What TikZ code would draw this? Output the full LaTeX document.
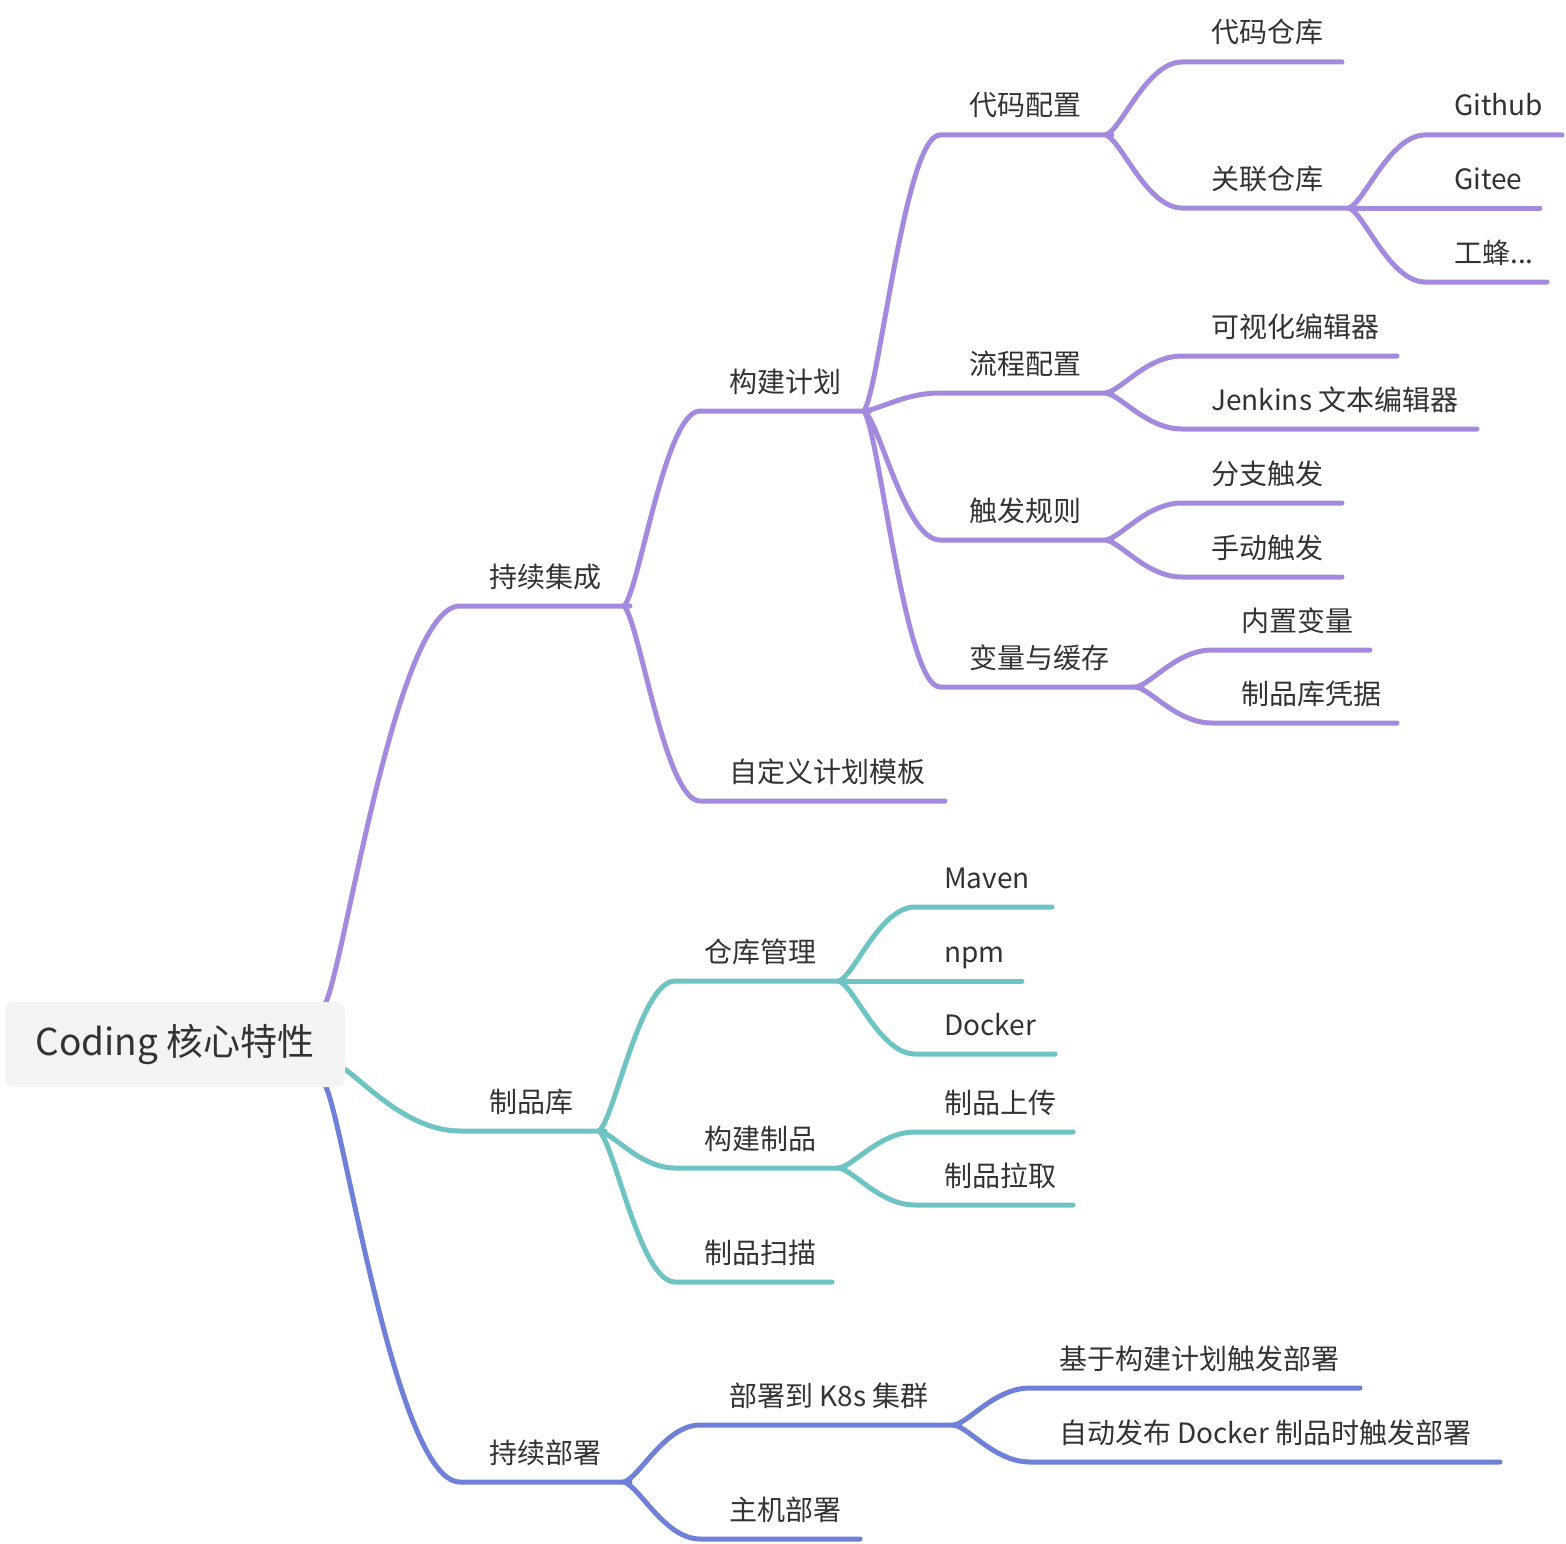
\documentclass[tikz,border=0pt]{standalone}
\usepackage{fontspec}
\setmainfont{Noto Sans CJK SC}
\usetikzlibrary{calc}
\definecolor{cpurple}{HTML}{A48ADF}
\definecolor{cteal}{HTML}{6EC4C2}
\definecolor{cblue}{HTML}{6F80D8}
\definecolor{ctext}{HTML}{333333}
\definecolor{crootfill}{HTML}{F4F4F4}
\newcommand\mmtopic[7]{%
  \coordinate (#1s) at (#4,#5);
  \coordinate (#1e) at (#6,#5);
  \node[lbl] (#1) at ($(#1s)+(29,-19)$) {#7};
  \draw[#2] let \p1=(#3e), \p2=(#1s) in
    ({\x1-6pt},{\y1}) .. controls ({\x1+6pt+0.05*(\x2-\x1)},{\y1+0.08*(\y2-\y1)})
             and ({\x1+0.5*(\x2-\x1)},{\y2}) .. (\p2) -- (#1e);
}
\begin{document}
\begin{tikzpicture}[x=1pt,y=-1pt,
  lbl/.style={anchor=base west, inner sep=0pt, text=ctext, font=\fontsize{28}{34}\selectfont},
  br/.style={line width=5pt, line cap=round},
  pu/.style={br, draw=cpurple},
  te/.style={br, draw=cteal},
  bl/.style={br, draw=cblue}]
\useasboundingbox (0,0) rectangle (1566,1544);
\coordinate (r1e) at (331,1004);
\coordinate (r2e) at (343,1065);
\coordinate (r3e) at (331,1085);
% 持续集成
\mmtopic{ci}{pu}{r1}{460}{606}{630}{持续集成}
\mmtopic{plan}{pu}{ci}{700}{411}{870}{构建计划}
\mmtopic{tmpl}{pu}{ci}{700}{801}{945}{自定义计划模板}
\mmtopic{code}{pu}{plan}{940}{135}{1112}{代码配置}
\mmtopic{flow}{pu}{plan}{940}{393}{1112}{流程配置}
\mmtopic{trig}{pu}{plan}{940}{540}{1112}{触发规则}
\mmtopic{var}{pu}{plan}{940}{687}{1142}{变量与缓存}
\mmtopic{repo}{pu}{code}{1182}{62}{1342}{代码仓库}
\mmtopic{link}{pu}{code}{1182}{208}{1355}{关联仓库}
\mmtopic{gh}{pu}{link}{1425}{135}{1562}{Github}
\mmtopic{gitee}{pu}{link}{1425}{208}{1540}{Gitee}
\mmtopic{gf}{pu}{link}{1425}{282}{1547}{工蜂...}
\mmtopic{vis}{pu}{flow}{1182}{356}{1397}{可视化编辑器}
\mmtopic{jen}{pu}{flow}{1182}{429}{1477}{Jenkins 文本编辑器}
\mmtopic{brn}{pu}{trig}{1182}{503}{1342}{分支触发}
\mmtopic{man}{pu}{trig}{1182}{577}{1342}{手动触发}
\mmtopic{bv}{pu}{var}{1212}{650}{1370}{内置变量}
\mmtopic{cred}{pu}{var}{1212}{723}{1397}{制品库凭据}
% 制品库
\mmtopic{art}{te}{r2}{460}{1131}{605}{制品库}
\mmtopic{rm}{te}{art}{675}{981}{845}{仓库管理}
\mmtopic{ba}{te}{art}{675}{1168}{845}{构建制品}
\mmtopic{scan}{te}{art}{675}{1282}{832}{制品扫描}
\mmtopic{mvn}{te}{rm}{915}{907}{1052}{Maven}
\mmtopic{npm}{te}{rm}{915}{981}{1022}{npm}
\mmtopic{dock}{te}{rm}{915}{1054}{1055}{Docker}
\mmtopic{upl}{te}{ba}{915}{1132}{1073}{制品上传}
\mmtopic{pull}{te}{ba}{915}{1205}{1073}{制品拉取}
% 持续部署
\mmtopic{cd}{bl}{r3}{460}{1482}{630}{持续部署}
\mmtopic{k8s}{bl}{cd}{700}{1425}{960}{部署到 K8s 集群}
\mmtopic{host}{bl}{cd}{700}{1539}{860}{主机部署}
\mmtopic{ta}{bl}{k8s}{1030}{1388}{1360}{基于构建计划触发部署}
\mmtopic{tb}{bl}{k8s}{1030}{1462}{1500}{自动发布 Docker 制品时触发部署}
% root (drawn last so branch starts sit under it)
\node[fill=crootfill, rounded corners=8pt, minimum width=340pt, minimum height=85pt,
      inner sep=0pt, text=ctext, font=\fontsize{37}{44}\selectfont] (root) at (175,1044.5) {\raisebox{2pt}{Coding 核心特性}};
\end{tikzpicture}
\end{document}
